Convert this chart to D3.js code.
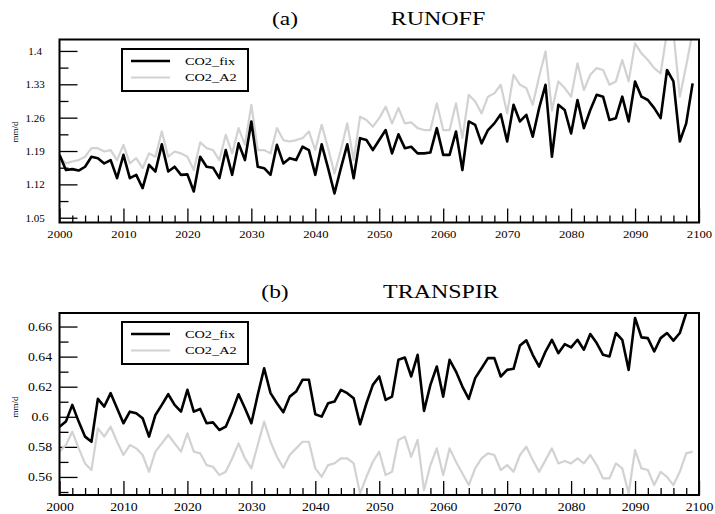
<!DOCTYPE html>
<html>
<head>
<meta charset="utf-8">
<script src="https://cdn.jsdelivr.net/npm/d3@7"></script>
<style>
  body { margin: 0; background: #fff; }
  svg text { font-family: "Liberation Serif", "DejaVu Serif", serif; fill: #000; }
</style>
</head>
<body>
<svg id="chart" width="715" height="514"></svg>
<script>
// years 2000..2099
const years = d3.range(2000, 2100);

const runoffFix = [
  1.182,1.150,1.152,1.149,1.157,1.178,1.175,1.164,1.171,1.133,
  1.182,1.133,1.140,1.112,1.161,1.147,1.204,1.147,1.157,1.140,
  1.141,1.105,1.178,1.157,1.155,1.133,1.192,1.140,1.206,1.171,
  1.252,1.157,1.154,1.140,1.203,1.164,1.175,1.171,1.199,1.192,
  1.140,1.204,1.154,1.101,1.154,1.204,1.133,1.217,1.213,1.192,
  1.213,1.234,1.185,1.225,1.196,1.199,1.185,1.185,1.187,1.238,
  1.182,1.182,1.231,1.150,1.252,1.245,1.206,1.234,1.248,1.267,
  1.210,1.287,1.252,1.266,1.220,1.280,1.329,1.178,1.287,1.276,
  1.227,1.297,1.238,1.276,1.308,1.304,1.255,1.259,1.304,1.252,
  1.336,1.304,1.297,1.280,1.259,1.360,1.336,1.210,1.248,1.332
];
const runoffA2 = [
  1.178,1.164,1.168,1.171,1.178,1.196,1.196,1.189,1.192,1.171,
  1.203,1.164,1.175,1.154,1.185,1.178,1.231,1.178,1.189,1.185,
  1.178,1.150,1.208,1.196,1.192,1.171,1.224,1.185,1.238,1.203,
  1.287,1.192,1.192,1.185,1.238,1.213,1.210,1.213,1.217,1.231,
  1.192,1.245,1.196,1.143,1.192,1.248,1.171,1.262,1.255,1.241,
  1.259,1.283,1.248,1.280,1.248,1.250,1.238,1.234,1.234,1.290,
  1.234,1.234,1.290,1.217,1.308,1.294,1.269,1.304,1.311,1.329,
  1.269,1.350,1.329,1.322,1.287,1.346,1.399,1.275,1.336,1.322,
  1.304,1.374,1.318,1.350,1.364,1.360,1.329,1.336,1.381,1.336,
  1.416,1.395,1.381,1.364,1.353,1.440,1.440,1.304,1.369,1.440
];
const transpirFix = [
  0.5934,0.5968,0.6079,0.5968,0.5868,0.5834,0.6119,0.6068,0.6157,0.6057,
  0.5957,0.6034,0.6023,0.5990,0.5868,0.6012,0.6079,0.6150,0.6079,0.6034,
  0.6179,0.6034,0.6052,0.5957,0.5963,0.5912,0.5934,0.6034,0.6150,0.6057,
  0.5957,0.6146,0.6323,0.6157,0.6090,0.6030,0.6134,0.6168,0.6246,0.6246,
  0.6017,0.6001,0.6090,0.6101,0.6179,0.6157,0.6123,0.5950,0.6090,0.6212,
  0.6268,0.6112,0.6134,0.6379,0.6394,0.6268,0.6412,0.6039,0.6212,0.6334,
  0.6134,0.6379,0.6301,0.6201,0.6119,0.6257,0.6323,0.6390,0.6390,0.6268,
  0.6312,0.6319,0.6474,0.6508,0.6412,0.6334,0.6434,0.6512,0.6423,0.6483,
  0.6461,0.6512,0.6446,0.6550,0.6490,0.6412,0.6401,0.6557,0.6512,0.6312,
  0.6657,0.6528,0.6523,0.6434,0.6523,0.6557,0.6506,0.6557,0.6690,0.6750
];
const transpirA2 = [
  0.5768,0.5812,0.5901,0.5790,0.5690,0.5646,0.5923,0.5868,0.5934,0.5834,
  0.5746,0.5812,0.5790,0.5746,0.5634,0.5768,0.5823,0.5879,0.5823,0.5768,
  0.5890,0.5768,0.5757,0.5679,0.5668,0.5612,0.5634,0.5723,0.5823,0.5723,
  0.5657,0.5812,0.5968,0.5834,0.5734,0.5661,0.5746,0.5790,0.5834,0.5834,
  0.5657,0.5601,0.5679,0.5690,0.5723,0.5723,0.5690,0.5490,0.5601,0.5701,
  0.5768,0.5612,0.5634,0.5846,0.5868,0.5734,0.5846,0.5512,0.5679,0.5790,
  0.5612,0.5790,0.5701,0.5623,0.5546,0.5657,0.5723,0.5757,0.5746,0.5646,
  0.5679,0.5634,0.5746,0.5801,0.5712,0.5634,0.5712,0.5790,0.5690,0.5706,
  0.5690,0.5723,0.5690,0.5746,0.5679,0.5590,0.5590,0.5690,0.5657,0.5490,
  0.5779,0.5657,0.5646,0.5546,0.5634,0.5601,0.5546,0.5634,0.5757,0.5768
];

const xMajor = d3.range(2000, 2101, 10);
const xMinor = d3.range(2002, 2100, 2).filter(d => d % 10 !== 0);
const runoffMajor = [1.05, 1.12, 1.19, 1.26, 1.33, 1.4];
const runoffMinor = [1.085, 1.155, 1.225, 1.295, 1.365];
const transpirMajor = [0.56, 0.58, 0.6, 0.62, 0.64, 0.66];
const transpirMinor = [0.55, 0.57, 0.59, 0.61, 0.63, 0.65];
const seriesNames = ['CO2_fix', 'CO2_A2'];
const seriesColors = ['#000000', '#d2d2d2'];

const svg = d3.select('#chart');
const left = 59.5, right = 699;

const x = d3.scaleLinear().domain([2000, 2100]).range([left, right]);

// stretch text horizontally like the original picture
function stretch(sel, k) {
  sel.each(function () {
    const w = this.getComputedTextLength();
    d3.select(this).attr('textLength', w * k).attr('lengthAdjust', 'spacingAndGlyphs');
  });
}

function drawPanel(o) {
  const y = d3.scaleLinear().domain(o.domain).range([o.bottom, o.top]);
  const g = svg.append('g');
  const clipId = 'clip' + o.id;
  g.append('clipPath').attr('id', clipId)
    .append('rect').attr('x', left).attr('y', o.top)
    .attr('width', right - left).attr('height', o.bottom - o.top);

  // titles
  const ta = g.append('text').attr('x', o.tagX).attr('y', o.titleY)
    .attr('text-anchor', 'middle').style('font-size', '18px').text(o.tag);
  stretch(ta, 1.3);
  const tt = g.append('text').attr('x', o.titleX).attr('y', o.titleY)
    .attr('text-anchor', 'middle').style('font-size', '18px').text(o.title);
  stretch(tt, 1.33);

  // x axis
  const xa = g.append('g').attr('transform', `translate(0,${o.bottom})`)
    .call(d3.axisBottom(x).tickValues(xMajor).tickSize(-14).tickFormat(d3.format('d')));
  xa.select('.domain').remove();
  xa.selectAll('line').attr('stroke', '#000').attr('stroke-width', 1.3);
  xa.selectAll('text').attr('y', 12).attr('dy', '0.35em')
    .style('font-size', o.tickFont + 'px').style('font-family', '"Liberation Serif", serif');
  stretch(xa.selectAll('text'), 1.15);
  const xm = g.append('g').attr('transform', `translate(0,${o.bottom})`)
    .call(d3.axisBottom(x).tickValues(xMinor).tickSize(-7).tickFormat(''));
  xm.select('.domain').remove();
  xm.selectAll('line').attr('stroke', '#000').attr('stroke-width', 1.3);

  // y axis
  const ya = g.append('g').attr('transform', `translate(${left},0)`)
    .call(d3.axisLeft(y).tickValues(o.major).tickSize(-18).tickFormat(d => String(+d.toFixed(2))));
  ya.select('.domain').remove();
  ya.selectAll('line').attr('stroke', '#000').attr('stroke-width', 1.3);
  ya.selectAll('text').attr('x', o.labelX - left).attr('text-anchor', 'middle')
    .style('font-size', o.tickFont + 'px').style('font-family', '"Liberation Serif", serif');
  stretch(ya.selectAll('text'), o.yStretch);
  const ym = g.append('g').attr('transform', `translate(${left},0)`)
    .call(d3.axisLeft(y).tickValues(o.minor).tickSize(-9).tickFormat(''));
  ym.select('.domain').remove();
  ym.selectAll('line').attr('stroke', '#000').attr('stroke-width', 1.3);

  // unit label
  g.append('text')
    .attr('transform', `translate(18,${o.unitY}) rotate(-90)`)
    .attr('text-anchor', 'middle').style('font-size', '9px').text('mm/d');

  // lines
  const line = d3.line().x((d, i) => x(years[i])).y(d => y(d));
  const lines = g.append('g').attr('clip-path', `url(#${clipId})`);
  lines.append('path').datum(o.a2).attr('d', line)
    .attr('fill', 'none').attr('stroke', seriesColors[1]).attr('stroke-width', 2.2)
    .attr('stroke-linejoin', 'round');
  lines.append('path').datum(o.fix).attr('d', line)
    .attr('fill', 'none').attr('stroke', seriesColors[0]).attr('stroke-width', 2.6)
    .attr('stroke-linejoin', 'round');

  // frame
  g.append('rect').attr('x', left).attr('y', o.top)
    .attr('width', right - left).attr('height', o.bottom - o.top)
    .attr('fill', 'none').attr('stroke', '#000').attr('stroke-width', 2);

  // legend
  const lg = g.append('g').attr('transform', `translate(122,${o.legendY})`);
  lg.append('rect').attr('width', 126).attr('height', 42)
    .attr('fill', '#fff').attr('stroke', '#000').attr('stroke-width', 2);
  seriesNames.forEach((name, i) => {
    const yy = 12 + i * 16.5;
    lg.append('line').attr('x1', 9).attr('x2', 48).attr('y1', yy).attr('y2', yy)
      .attr('stroke', seriesColors[i]).attr('stroke-width', i === 0 ? 2.6 : 2.2);
    const t = lg.append('text').attr('x', 63).attr('y', yy).attr('dy', '0.35em')
      .style('font-size', '11px').text(name);
    stretch(t, 1.3);
  });
}

drawPanel({
  id: 'a', top: 39.5, bottom: 222.5, domain: [1.04, 1.424],
  major: runoffMajor, minor: runoffMinor, fix: runoffFix, a2: runoffA2,
  tag: '(a)', title: 'RUNOFF', tagX: 285, titleX: 438, titleY: 25,
  labelX: 35, tickFont: 11, yStretch: 1.0, unitY: 132, legendY: 49
});
drawPanel({
  id: 'b', top: 313, bottom: 495, domain: [0.548, 0.669],
  major: transpirMajor, minor: transpirMinor, fix: transpirFix, a2: transpirA2,
  tag: '(b)', title: 'TRANSPIR', tagX: 275, titleX: 441, titleY: 298,
  labelX: 40, tickFont: 12, yStretch: 1.15, unitY: 407, legendY: 322
});
</script>
</body>
</html>
